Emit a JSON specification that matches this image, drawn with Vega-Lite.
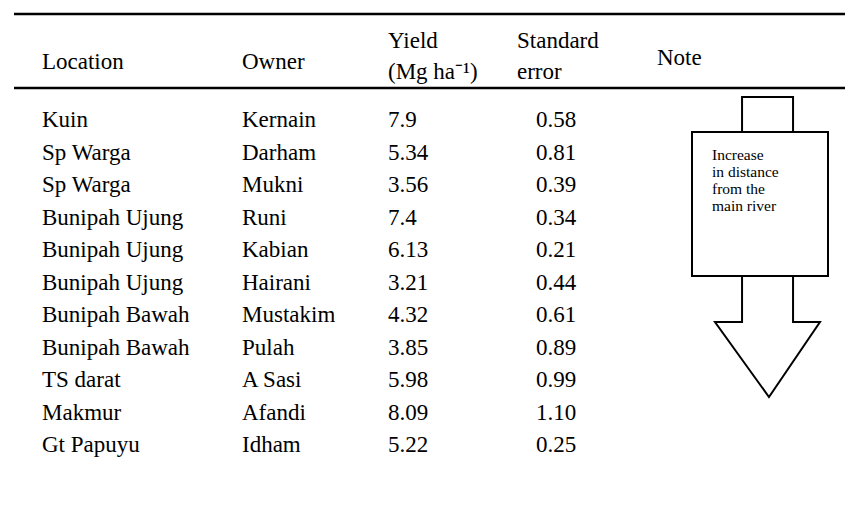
{
  "$schema": "https://vega.github.io/schema/vega-lite/v6.json",
  "width": 831,
  "height": 514,
  "padding": {"left": 14, "top": 0, "right": 0, "bottom": 0},
  "autosize": "none",
  "background": "white",
  "config": {"view": {"stroke": null}, "text": {"font": "Liberation Serif", "color": "black"}},
  "datasets": {
    "rows": [
      {"row": 1, "location": "Kuin", "owner": "Kernain", "yield": 7.9, "se": 0.58},
      {"row": 2, "location": "Sp Warga", "owner": "Darham", "yield": 5.34, "se": 0.81},
      {"row": 3, "location": "Sp Warga", "owner": "Mukni", "yield": 3.56, "se": 0.39},
      {"row": 4, "location": "Bunipah Ujung", "owner": "Runi", "yield": 7.4, "se": 0.34},
      {"row": 5, "location": "Bunipah Ujung", "owner": "Kabian", "yield": 6.13, "se": 0.21},
      {"row": 6, "location": "Bunipah Ujung", "owner": "Hairani", "yield": 3.21, "se": 0.44},
      {"row": 7, "location": "Bunipah Bawah", "owner": "Mustakim", "yield": 4.32, "se": 0.61},
      {"row": 8, "location": "Bunipah Bawah", "owner": "Pulah", "yield": 3.85, "se": 0.89},
      {"row": 9, "location": "TS darat", "owner": "A Sasi", "yield": 5.98, "se": 0.99},
      {"row": 10, "location": "Makmur", "owner": "Afandi", "yield": 8.09, "se": 1.10},
      {"row": 11, "location": "Gt Papuyu", "owner": "Idham", "yield": 5.22, "se": 0.25}
    ],
    "headers": [
      {"col": 0, "hline": -1.32, "label": "Location"},
      {"col": 1, "hline": -1.32, "label": "Owner"},
      {"col": 2, "hline": -2, "label": "Yield"},
      {"col": 2, "hline": -1, "label": "(Mg ha⁻¹)"},
      {"col": 3, "hline": -2, "label": "Standard"},
      {"col": 3, "hline": -1, "label": "error"},
      {"col": 4, "hline": -1.45, "label": "Note"}
    ],
    "lines": [{"row": -3}, {"row": 0}],
    "arrow": [
      {"part": "top", "i": 1, "ax": 36.8, "ay": 11.7},
      {"part": "top", "i": 2, "ax": 36.8, "ay": 0},
      {"part": "top", "i": 3, "ax": 74.3, "ay": 0},
      {"part": "top", "i": 4, "ax": 74.3, "ay": 11.7},
      {"part": "head", "i": 1, "ax": 36.8, "ay": 59.7},
      {"part": "head", "i": 2, "ax": 36.8, "ay": 75},
      {"part": "head", "i": 3, "ax": 16.9, "ay": 75},
      {"part": "head", "i": 4, "ax": 56.6, "ay": 100},
      {"part": "head", "i": 5, "ax": 94.1, "ay": 75},
      {"part": "head", "i": 6, "ax": 74.3, "ay": 75},
      {"part": "head", "i": 7, "ax": 74.3, "ay": 59.7}
    ],
    "box": [{"x0": 0, "x1": 100, "y0": 11.7, "y1": 59.7}],
    "note": [
      {"nx": 14.7, "ny": 19.3, "label": "Increase"},
      {"nx": 14.7, "ny": 25.0, "label": "in distance"},
      {"nx": 14.7, "ny": 30.7, "label": "from the"},
      {"nx": 14.7, "ny": 36.4, "label": "main river"}
    ]
  },
  "layer": [
    {
      "layer": [
        {
          "data": {"name": "lines"},
          "mark": {"type": "rule", "strokeWidth": 2.5, "color": "black"},
          "encoding": {
            "y": {"field": "row", "type": "quantitative", "axis": null,
                  "scale": {"domain": [-3, -2, -1, 0, 1, 11], "range": [14, 41, 72, 88, 120, 445], "nice": false, "zero": false}}
          }
        },
        {
          "data": {"name": "headers"},
          "mark": {"type": "text", "align": "left", "baseline": "middle", "fontSize": 23},
          "encoding": {
            "x": {"field": "col", "type": "quantitative", "axis": null,
                  "scale": {"domain": [0, 1, 2, 3, 4], "range": [28, 228, 374, 503, 643], "nice": false, "zero": false}},
            "y": {"field": "hline", "type": "quantitative"},
            "text": {"field": "label", "type": "nominal"}
          }
        },
        {
          "data": {"name": "rows"},
          "mark": {"type": "text", "align": "left", "baseline": "middle", "fontSize": 23},
          "encoding": {
            "x": {"datum": 0, "type": "quantitative"},
            "y": {"field": "row", "type": "quantitative"},
            "text": {"field": "location", "type": "nominal"}
          }
        },
        {
          "data": {"name": "rows"},
          "mark": {"type": "text", "align": "left", "baseline": "middle", "fontSize": 23},
          "encoding": {
            "x": {"datum": 1, "type": "quantitative"},
            "y": {"field": "row", "type": "quantitative"},
            "text": {"field": "owner", "type": "nominal"}
          }
        },
        {
          "data": {"name": "rows"},
          "mark": {"type": "text", "align": "left", "baseline": "middle", "fontSize": 23},
          "encoding": {
            "x": {"datum": 2, "type": "quantitative"},
            "y": {"field": "row", "type": "quantitative"},
            "text": {"field": "yield", "type": "quantitative"}
          }
        },
        {
          "data": {"name": "rows"},
          "mark": {"type": "text", "align": "left", "baseline": "middle", "fontSize": 23, "dx": 19},
          "encoding": {
            "x": {"datum": 3, "type": "quantitative"},
            "y": {"field": "row", "type": "quantitative"},
            "text": {"field": "se", "type": "quantitative", "format": ".2f"}
          }
        }
      ]
    },
    {
      "layer": [
        {
          "data": {"name": "box"},
          "mark": {"type": "rect", "fill": "white", "stroke": "black", "strokeWidth": 2},
          "encoding": {
            "x": {"field": "x0", "type": "quantitative", "axis": null,
                  "scale": {"domain": [0, 100], "range": [678, 814], "nice": false, "zero": false}},
            "x2": {"field": "x1"},
            "y": {"field": "y0", "type": "quantitative", "axis": null,
                  "scale": {"domain": [0, 100], "range": [97, 397], "nice": false, "zero": false}},
            "y2": {"field": "y1"}
          }
        },
        {
          "data": {"name": "arrow"},
          "mark": {"type": "line", "color": "black", "strokeWidth": 2, "strokeJoin": "miter"},
          "encoding": {
            "x": {"field": "ax", "type": "quantitative"},
            "y": {"field": "ay", "type": "quantitative"},
            "detail": {"field": "part", "type": "nominal"},
            "order": {"field": "i", "type": "quantitative"}
          }
        },
        {
          "data": {"name": "note"},
          "mark": {"type": "text", "align": "left", "baseline": "middle", "fontSize": 15.5},
          "encoding": {
            "x": {"field": "nx", "type": "quantitative"},
            "y": {"field": "ny", "type": "quantitative"},
            "text": {"field": "label", "type": "nominal"}
          }
        }
      ]
    }
  ],
  "resolve": {"scale": {"x": "independent", "y": "independent"}}
}
